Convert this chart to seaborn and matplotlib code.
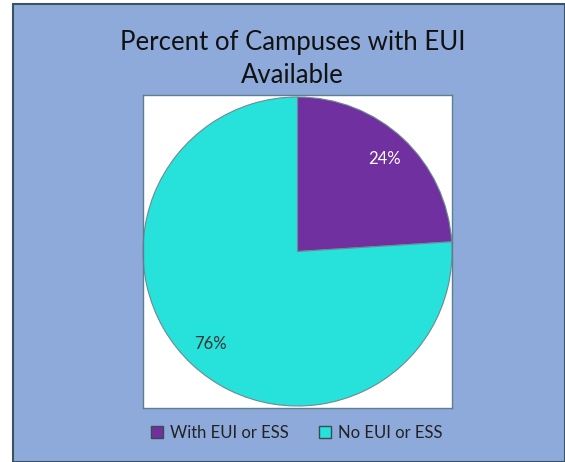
import matplotlib
matplotlib.use("Agg")
import matplotlib.pyplot as plt
import seaborn as sns
from matplotlib.patches import Rectangle, Patch

# data
labels = ["With EUI or ESS", "No EUI or ESS"]
values = [24, 76]
colors = ["#7030A0", "#26E2DA"]

sns.set_style("white")
plt.rcParams['font.family'] = ['Lato', 'DejaVu Sans']

fig = plt.figure(figsize=(5.65, 4.62), dpi=100)
fig.patch.set_facecolor("white")

# blue chart area with dark border
bg = Rectangle((13 / 565, 0), 1 - 13 / 565, 1 - 4 / 462, transform=fig.transFigure,
               facecolor="#8EAADB", edgecolor="#3B5360", linewidth=1.5, zorder=-10)
fig.patches.append(bg)

ax = fig.add_axes([143 / 565, 1 - 408 / 462, 309 / 565, 313 / 462])

wedges, texts, autotexts = ax.pie(values, colors=colors, startangle=90, counterclock=False,
                                  autopct="%d%%", pctdistance=0.82, frame=True,
                                  wedgeprops=dict(edgecolor="#6E8A92", linewidth=0.8),
                                  textprops=dict(fontsize=12))
autotexts[0].set_color("white")
autotexts[1].set_color("#333333")
ax.set_xlim(-1.0, 1.0)
ax.set_ylim(-1.01, 1.01)
ax.set_aspect("equal", adjustable="box")
ax.set_xticks([])
ax.set_yticks([])
ax.set_facecolor("white")
for s in ax.spines.values():
    s.set_visible(True)
    s.set_color("#5F7F8F")
    s.set_linewidth(1)

fig.text(0.518, 0.873, "Percent of Campuses with EUI\nAvailable", ha="center", va="center",
         fontsize=18.5, color="#111111", linespacing=1.4)

handles = [Patch(facecolor=c, edgecolor="#3B4A50", label=l) for c, l in zip(colors, labels)]
fig.legend(handles=handles, loc="center", bbox_to_anchor=(0.525, 0.063), ncol=2,
           frameon=False, fontsize=12, handlelength=0.75, handleheight=0.75,
           handletextpad=0.4, columnspacing=1.8, labelcolor="#222222")

fig.savefig("out.png", dpi=100)
